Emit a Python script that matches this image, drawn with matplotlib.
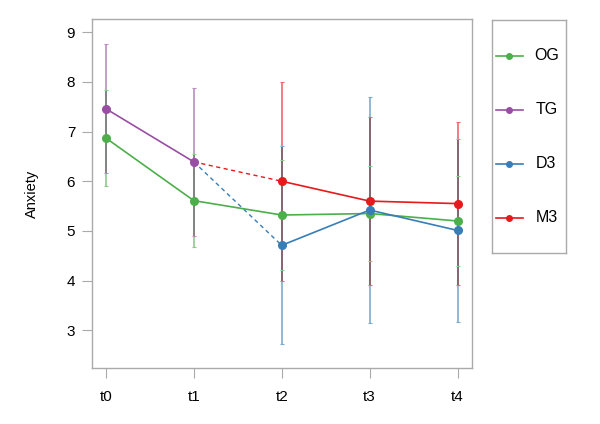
import numpy as np
import matplotlib
matplotlib.use('Agg')
import matplotlib.pyplot as plt
from matplotlib.colors import to_rgb
from matplotlib.lines import Line2D

plt.rcParams['font.family'] = ['Liberation Sans', 'DejaVu Sans']

# Дані (середні та відхилення за точками часу)
times = ['t0', 't1', 't2', 't3', 't4']

og_mean = [6.87, 5.61, 5.32, 5.35, 5.20]
og_err = [0.96, 0.93, 1.10, 0.95, 0.90]

tg_mean = [7.46, 6.39]
tg_err = [1.30, 1.49]

d3_mean = [4.71, 5.42, 5.01]
d3_err = [1.99, 2.28, 1.84]

m3_mean = [6.00, 5.60, 5.55]
m3_err = [2.00, 1.69, 1.64]

groups = ['OG', 'TG', 'D3', 'M3']
colors = {'OG': '#4DAF4A', 'TG': '#984EA3', 'D3': '#377EB8', 'M3': '#E41A1C'}
spine_col = '#AAAAAA'

x_all = np.arange(len(times))
x_tg = x_all[:2]
x_late = x_all[2:]

series = {
    'OG': (x_all, og_mean, og_err),
    'TG': (x_tg, tg_mean, tg_err),
    'D3': (x_late, d3_mean, d3_err),
    'M3': (x_late, m3_mean, m3_err),
}

fig = plt.figure(figsize=(6, 4.24), dpi=100)
ax = fig.add_axes([0.153, 0.132, 0.633, 0.8225])

# === Вуса похибок (верхні дві смуги змішуються там, де перекриваються) ===
alpha = 0.65


def tint(c):
    return 1 - alpha * (1 - np.array(to_rgb(c)))


bars = {}
for g, (xs, ms, es) in series.items():
    for x, m, e in zip(xs, ms, es):
        bars.setdefault(x, []).append((m - e, m + e, g))

for x, items in bars.items():
    edges = sorted(set([b[0] for b in items] + [b[1] for b in items]))
    for lo, hi in zip(edges[:-1], edges[1:]):
        mid = (lo + hi) / 2
        cov = [g for (a, b, g) in items if a <= mid <= b]
        if not cov:
            continue
        col = np.ones(3)
        for g in cov[-2:]:
            col = col * tint(colors[g])
        ax.vlines(x, lo, hi, color=col, lw=1.2, capstyle='butt')
    for a, b, g in items:
        ax.plot([x, x], [a, b], ls='none', marker='_', markersize=3,
                markeredgewidth=0.8, color=tint(colors[g]))

# === Пунктирні переходи від TG ===
ax.plot([x_tg[-1], x_late[0]], [tg_mean[-1], d3_mean[0]], ls=(0, (3, 2.5)), color=colors['D3'], lw=1)
ax.plot([x_tg[-1], x_late[0]], [tg_mean[-1], m3_mean[0]], ls=(0, (3, 2.5)), color=colors['M3'], lw=1)

# === Лінії з точками ===
for g, (xs, ms, es) in series.items():
    ax.plot(xs, ms, color=colors[g], marker='o', markersize=5.5, lw=1.2)

ax.set_xlim(-0.16, 4.16)
ax.set_ylim(2.24, 9.26)
ax.set_xticks(x_all)
ax.set_xticklabels(times)
ax.set_yticks(range(3, 10))
ax.set_ylabel('Anxiety', fontsize=10.5, labelpad=20)
for s in ax.spines.values():
    s.set_color(spine_col)
    s.set_linewidth(1)
ax.tick_params(axis='both', colors=spine_col, labelcolor='black', labelsize=11, length=7)
ax.tick_params(axis='y', pad=5)
ax.tick_params(axis='x', pad=9)

# === Легенда в окремій рамці ===
lax = fig.add_axes([0.8205, 0.403, 0.1235, 0.5505])
lax.set_xlim(0, 1)
lax.set_ylim(0, 1)
lax.set_xticks([])
lax.set_yticks([])
for s in lax.spines.values():
    s.set_color(spine_col)
    s.set_linewidth(1)
ys = [0.846, 0.614, 0.383, 0.151]
for g, yy in zip(groups, ys):
    lax.add_line(Line2D([0.046, 0.419], [yy, yy], color=colors[g], lw=1.2))
    lax.plot([0.232], [yy], marker='o', markersize=4, color=colors[g])
    lax.text(0.73, yy, g, ha='center', va='center', fontsize=11.5)

fig.savefig('out.png', dpi=100)
